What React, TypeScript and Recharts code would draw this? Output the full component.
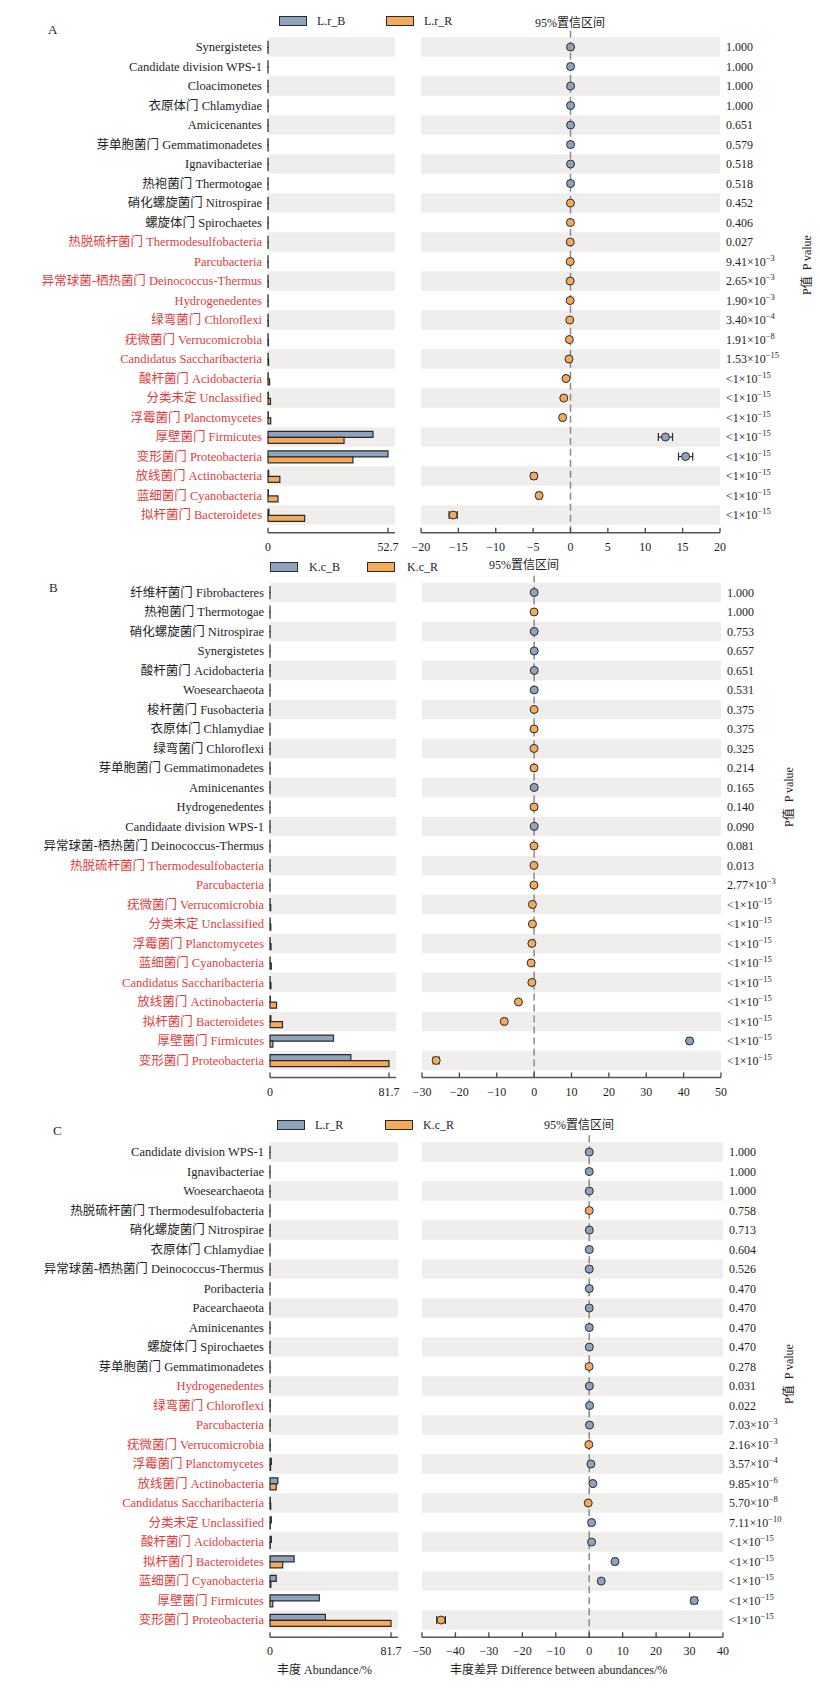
import React from "react";
import {
  Bar,
  BarChart,
  ComposedChart,
  ErrorBar,
  Line,
  ReferenceArea,
  ReferenceLine,
  XAxis,
  YAxis,
} from "recharts";

const BLUE = "#8ea4be";
const ORANGE = "#f4a95b";
const EDGE = "#2b2b2b";
const BAND = "#f0eeed";
const RED = "#e03c3c";
const INK = "#1e1e1e";
const FONT = "'Liberation Serif','Times New Roman','Noto Sans CJK SC',serif";

// ---- panel A: L.r_B vs L.r_R ----
const namesA = [
  "Synergistetes", "Candidate division WPS-1", "Cloacimonetes", "衣原体门 Chlamydiae", "Amicicenantes",
  "芽单胞菌门 Gemmatimonadetes", "Ignavibacteriae", "热袍菌门 Thermotogae", "硝化螺旋菌门 Nitrospirae",
  "螺旋体门 Spirochaetes", "热脱硫杆菌门 Thermodesulfobacteria", "Parcubacteria",
  "异常球菌-栖热菌门 Deinococcus-Thermus", "Hydrogenedentes", "绿弯菌门 Chloroflexi", "疣微菌门 Verrucomicrobia",
  "Candidatus Saccharibacteria", "酸杆菌门 Acidobacteria", "分类未定 Unclassified", "浮霉菌门 Planctomycetes",
  "厚壁菌门 Firmicutes", "变形菌门 Proteobacteria", "放线菌门 Actinobacteria", "蓝细菌门 Cyanobacteria",
  "拟杆菌门 Bacteroidetes",
];
const groupA_1 = [0.02, 0.01, 0.02, 0.03, 0.02, 0.05, 0.03, 0.04, 0.05, 0.04, 0.02, 0.02, 0.03, 0.02, 0.05, 0.05, 0.05, 0.1, 0.2, 0.15, 46.1, 52.7, 0.3, 0.2, 0.4];
const groupA_2 = [0.02, 0.01, 0.02, 0.03, 0.02, 0.05, 0.03, 0.03, 0.06, 0.05, 0.05, 0.06, 0.08, 0.07, 0.15, 0.2, 0.25, 0.7, 1.1, 1.2, 33.4, 37.3, 5.2, 4.4, 16.1];
const diffA = [0.01, 0.01, 0.01, 0.01, 0.01, 0.01, 0.01, 0.01, -0.01, -0.01, -0.03, -0.04, -0.05, -0.05, -0.1, -0.15, -0.2, -0.6, -0.9, -1.05, 12.7, 15.4, -4.9, -4.2, -15.7];
const ciA = [0.04, 0.04, 0.04, 0.04, 0.04, 0.04, 0.04, 0.04, 0.04, 0.04, 0.04, 0.04, 0.05, 0.05, 0.06, 0.06, 0.08, 0.15, 0.2, 0.2, 0.95, 0.95, 0.35, 0.3, 0.55];
const pA = [
  "1.000", "1.000", "1.000", "1.000", "0.651", "0.579", "0.518", "0.518", "0.452", "0.406", "0.027",
  "9.41×10^-3", "2.65×10^-3", "1.90×10^-3", "3.40×10^-4", "1.91×10^-8", "1.53×10^-15",
  "<1×10^-15", "<1×10^-15", "<1×10^-15", "<1×10^-15", "<1×10^-15", "<1×10^-15", "<1×10^-15", "<1×10^-15",
];
const abundTicksA = [0, 52.7];
const diffTicksA = [-20, -15, -10, -5, 0, 5, 10, 15, 20];

// ---- panel B: K.c_B vs K.c_R ----
const namesB = [
  "纤维杆菌门 Fibrobacteres", "热袍菌门 Thermotogae", "硝化螺旋菌门 Nitrospirae", "Synergistetes",
  "酸杆菌门 Acidobacteria", "Woesearchaeota", "梭杆菌门 Fusobacteria", "衣原体门 Chlamydiae", "绿弯菌门 Chloroflexi",
  "芽单胞菌门 Gemmatimonadetes", "Aminicenantes", "Hydrogenedentes", "Candidaate division WPS-1",
  "异常球菌-栖热菌门 Deinococcus-Thermus", "热脱硫杆菌门 Thermodesulfobacteria", "Parcubacteria",
  "疣微菌门 Verrucomicrobia", "分类未定 Unclassified", "浮霉菌门 Planctomycetes", "蓝细菌门 Cyanobacteria",
  "Candidatus Saccharibacteria", "放线菌门 Actinobacteria", "拟杆菌门 Bacteroidetes", "厚壁菌门 Firmicutes",
  "变形菌门 Proteobacteria",
];
const groupB_1 = [0.01, 0.01, 0.02, 0.02, 0.08, 0.02, 0.01, 0.02, 0.05, 0.03, 0.03, 0.01, 0.02, 0.01, 0.01, 0.01, 0.05, 0.1, 0.1, 0.1, 0.05, 0.3, 0.6, 43.6, 55.5];
const groupB_2 = [0.01, 0.02, 0.01, 0.01, 0.05, 0.01, 0.03, 0.04, 0.08, 0.06, 0.01, 0.03, 0.01, 0.04, 0.06, 0.06, 0.5, 0.55, 0.7, 0.9, 0.65, 4.5, 8.6, 2.0, 81.7];
const diffB = [0.02, -0.02, 0.02, 0.02, 0.03, 0.02, -0.02, -0.02, -0.03, -0.03, 0.02, -0.02, 0.02, -0.03, -0.05, -0.05, -0.45, -0.45, -0.6, -0.8, -0.6, -4.2, -8.0, 41.6, -26.2];
const ciB = [0.05, 0.05, 0.05, 0.05, 0.05, 0.05, 0.05, 0.05, 0.05, 0.05, 0.05, 0.05, 0.05, 0.05, 0.05, 0.05, 0.1, 0.1, 0.1, 0.1, 0.1, 0.3, 0.4, 0.6, 0.8];
const pB = [
  "1.000", "1.000", "0.753", "0.657", "0.651", "0.531", "0.375", "0.375", "0.325", "0.214", "0.165", "0.140",
  "0.090", "0.081", "0.013", "2.77×10^-3",
  "<1×10^-15", "<1×10^-15", "<1×10^-15", "<1×10^-15", "<1×10^-15", "<1×10^-15", "<1×10^-15", "<1×10^-15", "<1×10^-15",
];
const abundTicksB = [0, 81.7];
const diffTicksB = [-30, -20, -10, 0, 10, 20, 30, 40, 50];

// ---- panel C: L.r_R vs K.c_R ----
const namesC = [
  "Candidate division WPS-1", "Ignavibacteriae", "Woesearchaeota", "热脱硫杆菌门 Thermodesulfobacteria",
  "硝化螺旋菌门 Nitrospirae", "衣原体门 Chlamydiae", "异常球菌-栖热菌门 Deinococcus-Thermus", "Poribacteria",
  "Pacearchaeota", "Aminicenantes", "螺旋体门 Spirochaetes", "芽单胞菌门 Gemmatimonadetes", "Hydrogenedentes",
  "绿弯菌门 Chloroflexi", "Parcubacteria", "疣微菌门 Verrucomicrobia", "浮霉菌门 Planctomycetes",
  "放线菌门 Actinobacteria", "Candidatus Saccharibacteria", "分类未定 Unclassified", "酸杆菌门 Acidobacteria",
  "拟杆菌门 Bacteroidetes", "蓝细菌门 Cyanobacteria", "厚壁菌门 Firmicutes", "变形菌门 Proteobacteria",
];
const groupC_1 = [0.02, 0.02, 0.02, 0.02, 0.1, 0.05, 0.05, 0.02, 0.02, 0.04, 0.06, 0.04, 0.07, 0.2, 0.12, 0.08, 0.9, 5.3, 0.2, 0.9, 0.9, 16.3, 4.2, 33.3, 37.4];
const groupC_2 = [0.01, 0.01, 0.01, 0.03, 0.08, 0.03, 0.03, 0.01, 0.01, 0.02, 0.03, 0.07, 0.02, 0.1, 0.04, 0.18, 0.4, 4.2, 0.5, 0.2, 0.2, 8.6, 0.6, 1.9, 81.7];
const diffC = [0.01, 0.01, 0.01, -0.01, 0.02, 0.02, 0.02, 0.01, 0.01, 0.02, 0.03, -0.03, 0.05, 0.1, 0.08, -0.1, 0.5, 1.1, -0.3, 0.7, 0.7, 7.7, 3.6, 31.4, -44.3];
const ciC = [0.05, 0.05, 0.05, 0.05, 0.05, 0.05, 0.05, 0.05, 0.05, 0.05, 0.05, 0.05, 0.05, 0.1, 0.1, 0.1, 0.2, 0.4, 0.2, 0.2, 0.2, 0.6, 0.4, 0.9, 1.3];
const pC = [
  "1.000", "1.000", "1.000", "0.758", "0.713", "0.604", "0.526", "0.470", "0.470", "0.470", "0.470", "0.278",
  "0.031", "0.022", "7.03×10^-3", "2.16×10^-3", "3.57×10^-4", "9.85×10^-6", "5.70×10^-8", "7.11×10^-10",
  "<1×10^-15", "<1×10^-15", "<1×10^-15", "<1×10^-15", "<1×10^-15",
];
const abundTicksC = [0, 81.7];
const diffTicksC = [-50, -40, -30, -20, -10, 0, 10, 20, 30, 40];

const PANELS = [
  {
    letter: "A", legend: ["L.r_B", "L.r_R"], names: namesA, g1: groupA_1, g2: groupA_2, diff: diffA, ci: ciA, p: pA,
    abundTicks: abundTicksA, diffTicks: diffTicksA,
    geo: { lineTop: 28, axisY: 532.7, padTop: 9.3, padBottom: 7.9, barsL: 268, barsR: 395, ptsL: 421, ptsR: 720,
      letterX: 48, letterY: 30, legY: 20.5, sw1: 279, t1: 317, sw2: 386, t2: 424, titleX: 535, titleY: 23, pvX: 807, pvY: 265 },
  },
  {
    letter: "B", legend: ["K.c_B", "K.c_R"], names: namesB, g1: groupB_1, g2: groupB_2, diff: diffB, ci: ciB, p: pB,
    abundTicks: abundTicksB, diffTicks: diffTicksB,
    geo: { lineTop: 572, axisY: 1077.5, padTop: 10.7, padBottom: 7.3, barsL: 270, barsR: 396, ptsL: 422, ptsR: 721,
      letterX: 49, letterY: 588, legY: 567, sw1: 270, t1: 309, sw2: 367, t2: 407, titleX: 489, titleY: 565, pvX: 789, pvY: 797 },
  },
  {
    letter: "C", legend: ["L.r_R", "K.c_R"], names: namesC, g1: groupC_1, g2: groupC_2, diff: diffC, ci: ciC, p: pC,
    abundTicks: abundTicksC, diffTicks: diffTicksC,
    geo: { lineTop: 1133, axisY: 1637.3, padTop: 9.3, padBottom: 7.5, barsL: 270, barsR: 398, ptsL: 422, ptsR: 723,
      letterX: 53, letterY: 1131, legY: 1125, sw1: 277, t1: 315, sw2: 385, t2: 423, titleX: 544, titleY: 1125, pvX: 789, pvY: 1374 },
  },
];

const isSig = (p: string) => p.includes("×") || parseFloat(p) < 0.05;
const fmtNum = (v: number) => (v < 0 ? "−" + Math.abs(v) : String(v));

function NameTick({ x, y, payload, names, pvals }: any) {
  const idx = names.indexOf(payload.value);
  const red = idx >= 0 && isSig(pvals[idx]);
  return (
    <text x={x} y={y} dy="0.35em" textAnchor="end" fontSize={12.5} fontFamily={FONT} fill={red ? RED : INK}>
      {payload.value}
    </text>
  );
}

function PTick({ x, y, payload, names, pvals }: any) {
  const idx = names.indexOf(payload.value);
  const s: string = pvals[idx] ?? "";
  const [base, exp] = s.split("^");
  return (
    <text x={x} y={y} dy="0.35em" textAnchor="start" fontSize={12} fontFamily={FONT} fill={INK}>
      {base}
      {exp && (
        <tspan dy={-5} fontSize={8.5}>
          {exp.replace("-", "−")}
        </tspan>
      )}
    </text>
  );
}

function AxisTick({ x, y, payload }: any) {
  return (
    <g>
      <line x1={x} x2={x} y1={y} y2={y - 5} stroke="#444" strokeWidth={1.3} />
      <text x={x} y={y + 14} dy="0.35em" textAnchor="middle" fontSize={12} fontFamily={FONT} fill={INK}>
        {fmtNum(payload.value)}
      </text>
    </g>
  );
}

function PointDot(props: any) {
  const { cx, cy, payload, index } = props;
  if (cx == null || cy == null) return <g key={`d${index}`} />;
  return (
    <circle key={`d${index}`} cx={cx} cy={cy} r={4} fill={payload.d > 0 ? BLUE : ORANGE} stroke={EDGE} strokeWidth={1} />
  );
}

function Panel({ panel }: any) {
  const g = panel.geo;
  const rows = panel.names.map((name: string, i: number) => ({
    name,
    b: panel.g1[i],
    r: panel.g2[i],
    d: panel.diff[i],
    ci: panel.ci[i],
  }));
  const plotH = g.axisY - g.lineTop;
  const chartH = plotH + 30;
  const maxAb = panel.abundTicks[1];
  const shaded = rows.filter((_: any, i: number) => i % 2 === 0);
  const textDiv = (left: number, cy: number, txt: string, size = 12) => (
    <div
      style={{ position: "absolute", left, top: cy - 8, height: 16, lineHeight: "16px", fontSize: size, color: INK, whiteSpace: "nowrap" }}
    >
      {txt}
    </div>
  );
  const swatch = (left: number, color: string) => (
    <div
      style={{ position: "absolute", left, top: g.legY - 5, width: 26, height: 8, background: color, border: `1.5px solid ${EDGE}` }}
    />
  );

  return (
    <>
      {textDiv(g.letterX, g.letterY, panel.letter, 13)}
      {swatch(g.sw1, BLUE)}
      {textDiv(g.t1, g.legY, panel.legend[0])}
      {swatch(g.sw2, ORANGE)}
      {textDiv(g.t2, g.legY, panel.legend[1])}
      {textDiv(g.titleX, g.titleY, "95%置信区间")}
      <div
        style={{
          position: "absolute", left: g.pvX - 45, top: g.pvY - 8, width: 90, height: 16, lineHeight: "16px",
          fontSize: 12, textAlign: "center", transform: "rotate(-90deg)", whiteSpace: "nowrap", color: INK,
        }}
      >
        P值&nbsp;&nbsp;P value
      </div>

      <div style={{ position: "absolute", left: 0, top: g.lineTop }}>
        <BarChart
          width={g.barsR + 20}
          height={chartH}
          layout="vertical"
          data={rows}
          margin={{ top: 0, right: 20, bottom: 0, left: 0 }}
          barGap={0}
        >
          <XAxis
            type="number"
            domain={[0, maxAb * ((g.barsR - g.barsL) / (g.barsR - g.barsL - 7))]}
            ticks={panel.abundTicks}
            interval={0}
            axisLine={{ stroke: "#555", strokeWidth: 1.5 }}
            tickLine={false}
            tickSize={0}
            tickMargin={0}
            tick={<AxisTick />}
            height={30}
          />
          <YAxis
            type="category"
            dataKey="name"
            scale="band"
            width={g.barsL}
            padding={{ top: g.padTop, bottom: g.padBottom }}
            interval={0}
            axisLine={false}
            tickLine={false}
            tickSize={0}
            tickMargin={6}
            tick={<NameTick names={panel.names} pvals={panel.p} />}
          />
          {shaded.map((r: any) => (
            <ReferenceArea key={r.name} y1={r.name} y2={r.name} fill={BAND} fillOpacity={1} stroke="none" ifOverflow="visible" />
          ))}
          <Bar dataKey="b" fill={BLUE} stroke={EDGE} strokeWidth={1.2} barSize={6} isAnimationActive={false} />
          <Bar dataKey="r" fill={ORANGE} stroke={EDGE} strokeWidth={1.2} barSize={6} isAnimationActive={false} />
        </BarChart>
      </div>

      <div style={{ position: "absolute", left: 400, top: g.lineTop }}>
        <ComposedChart
          width={420}
          height={chartH}
          layout="vertical"
          data={rows}
          margin={{ top: 0, right: 0, bottom: 0, left: g.ptsL - 400 }}
        >
          <XAxis
            type="number"
            domain={[panel.diffTicks[0], panel.diffTicks[panel.diffTicks.length - 1]]}
            ticks={panel.diffTicks}
            interval={0}
            allowDataOverflow
            axisLine={{ stroke: "#555", strokeWidth: 1.5 }}
            tickLine={false}
            tickSize={0}
            tickMargin={0}
            tick={<AxisTick />}
            height={30}
          />
          <YAxis
            type="category"
            dataKey="name"
            scale="band"
            orientation="right"
            width={820 - g.ptsR}
            padding={{ top: g.padTop, bottom: g.padBottom }}
            interval={0}
            axisLine={false}
            tickLine={false}
            tickSize={0}
            tickMargin={6}
            tick={<PTick names={panel.names} pvals={panel.p} />}
          />
          {shaded.map((r: any) => (
            <ReferenceArea key={r.name} y1={r.name} y2={r.name} fill={BAND} fillOpacity={1} stroke="none" ifOverflow="visible" />
          ))}
          <ReferenceLine x={0} stroke="#8a8a8a" strokeWidth={1.5} strokeDasharray="7 4" />
          <Line
            dataKey="d"
            type="linear"
            stroke="none"
            dot={PointDot}
            activeDot={false}
            isAnimationActive={false}
          >
            <ErrorBar dataKey="ci" direction="x" width={4} stroke={EDGE} strokeWidth={1.2} />
          </Line>
        </ComposedChart>
      </div>
    </>
  );
}

export default function App() {
  return (
    <div
      style={{
        position: "absolute", left: 0, top: 0, width: 820, height: 1690, background: "#fff",
        fontFamily: FONT, overflow: "hidden",
      }}
    >
      {PANELS.map((p) => (
        <Panel key={p.letter} panel={p} />
      ))}
      <div style={{ position: "absolute", left: 277, top: 1662, fontSize: 12, lineHeight: "16px", color: INK, whiteSpace: "nowrap" }}>
        丰度 Abundance/%
      </div>
      <div style={{ position: "absolute", left: 450, top: 1662, fontSize: 12, lineHeight: "16px", color: INK, whiteSpace: "nowrap" }}>
        丰度差异 Difference between abundances/%
      </div>
    </div>
  );
}
